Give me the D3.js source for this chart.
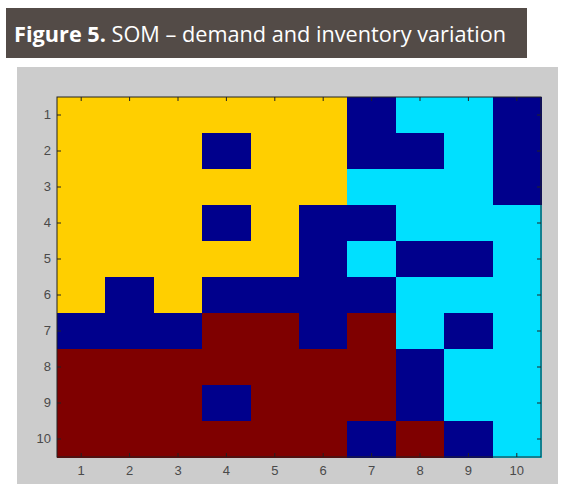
<!DOCTYPE html>
<html>
<head>
<meta charset="utf-8">
<script src="https://cdn.jsdelivr.net/npm/d3@7"></script>
<style>
  html, body { margin: 0; padding: 0; background: #ffffff; }
  svg { display: block; }
</style>
</head>
<body>
<svg id="chart" width="572" height="502"></svg>
<script>
// SOM cluster map: 10 x 10 grid of neuron labels
// 1 = dark blue, 2 = cyan, 3 = yellow, 4 = dark red
const rows = [1, 2, 3, 4, 5, 6, 7, 8, 9, 10];
const cols = [1, 2, 3, 4, 5, 6, 7, 8, 9, 10];
const row1  = [3, 3, 3, 3, 3, 3, 1, 2, 2, 1];
const row2  = [3, 3, 3, 1, 3, 3, 1, 1, 2, 1];
const row3  = [3, 3, 3, 3, 3, 3, 2, 2, 2, 1];
const row4  = [3, 3, 3, 1, 3, 1, 1, 2, 2, 2];
const row5  = [3, 3, 3, 3, 3, 1, 2, 1, 1, 2];
const row6  = [3, 1, 3, 1, 1, 1, 1, 2, 2, 2];
const row7  = [1, 1, 1, 4, 4, 1, 4, 2, 1, 2];
const row8  = [4, 4, 4, 4, 4, 4, 4, 1, 2, 2];
const row9  = [4, 4, 4, 1, 4, 4, 4, 1, 2, 2];
const row10 = [4, 4, 4, 4, 4, 4, 1, 4, 1, 2];
const grid = [row1, row2, row3, row4, row5, row6, row7, row8, row9, row10];

const clusterIds = [1, 2, 3, 4];
const clusterColors = ["#00008c", "#00e0ff", "#ffcf00", "#7f0000"];
const titleBold = "Figure 5.";
const titleRest = " SOM \u2013 demand and inventory variation";

const svg = d3.select("#chart");

// Title banner
svg.append("rect")
  .attr("x", 6).attr("y", 8).attr("width", 521).attr("height", 50)
  .attr("fill", "#534b47");
const title = svg.append("text")
  .attr("x", 14).attr("y", 42)
  .attr("fill", "#ffffff")
  .attr("font-family", "'Open Sans', 'Noto Sans', sans-serif")
  .attr("font-size", 21.7);
title.append("tspan").attr("font-weight", "bold").text(titleBold);
title.append("tspan").text(titleRest);

// Figure panel
svg.append("rect")
  .attr("x", 17).attr("y", 67).attr("width", 541).attr("height", 417)
  .attr("fill", "#cccccc");

const plot = { left: 57, top: 97, right: 541, bottom: 457 };

const x = d3.scaleBand().domain(cols).range([plot.left, plot.right]).padding(0);
const y = d3.scaleBand().domain(rows).range([plot.top, plot.bottom]).padding(0);
const color = d3.scaleOrdinal().domain(clusterIds).range(clusterColors);

const cells = [];
grid.forEach((r, i) => r.forEach((v, j) => cells.push({ row: rows[i], col: cols[j], v })));

svg.append("g")
  .selectAll("rect")
  .data(cells)
  .join("rect")
  .attr("x", d => x(d.col))
  .attr("y", d => y(d.row))
  .attr("width", x.bandwidth() + 0.5)
  .attr("height", y.bandwidth() + 0.5)
  .attr("fill", d => color(d.v))
  .attr("shape-rendering", "crispEdges");

// Axes: inward ticks on all four sides, labels on bottom and left
const tickLen = 4;
const fontFam = "'Liberation Sans', Arial, sans-serif";

function styleAxis(g, showLabels) {
  g.select(".domain").remove();
  g.selectAll(".tick line").attr("stroke", "#222").attr("stroke-width", 1);
  g.selectAll(".tick text")
    .attr("fill", "#4a4a4a")
    .attr("font-size", 13)
    .attr("font-family", fontFam);
  if (!showLabels) g.selectAll(".tick text").remove();
}

svg.append("g")
  .attr("transform", `translate(0,${plot.bottom})`)
  .call(d3.axisBottom(x).tickSizeInner(-tickLen).tickSizeOuter(0).tickPadding(9))
  .call(g => styleAxis(g, true));

svg.append("g")
  .attr("transform", `translate(0,${plot.top})`)
  .call(d3.axisTop(x).tickSizeInner(-tickLen).tickSizeOuter(0))
  .call(g => styleAxis(g, false));

svg.append("g")
  .attr("transform", `translate(${plot.left},0)`)
  .call(d3.axisLeft(y).tickSizeInner(-tickLen).tickSizeOuter(0).tickPadding(6))
  .call(g => styleAxis(g, true));

svg.append("g")
  .attr("transform", `translate(${plot.right},0)`)
  .call(d3.axisRight(y).tickSizeInner(-tickLen).tickSizeOuter(0))
  .call(g => styleAxis(g, false));

// Axes box
svg.append("rect")
  .attr("x", plot.left).attr("y", plot.top)
  .attr("width", plot.right - plot.left).attr("height", plot.bottom - plot.top)
  .attr("fill", "none").attr("stroke", "#222").attr("stroke-width", 1);
</script>
</body>
</html>
